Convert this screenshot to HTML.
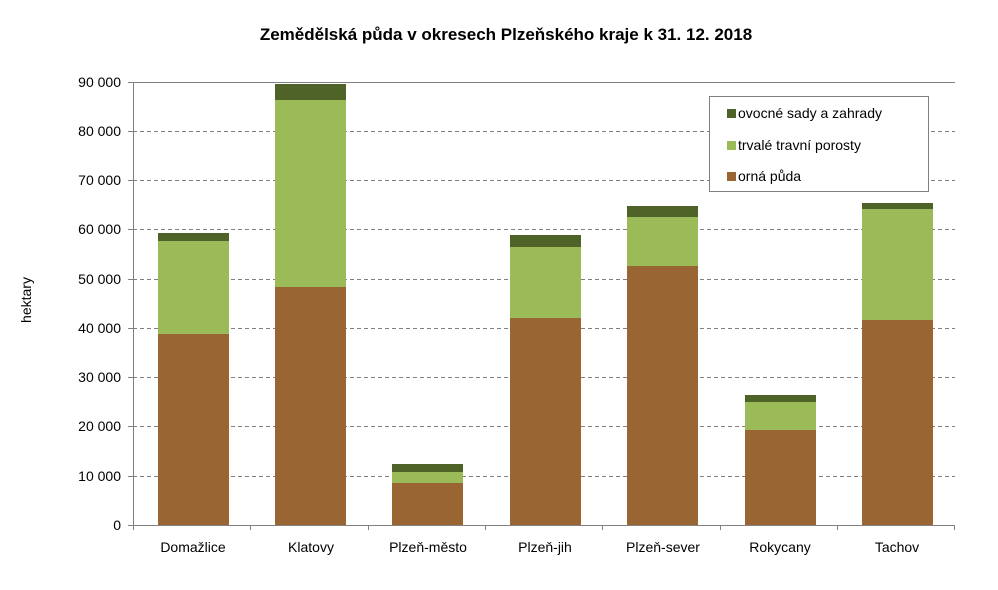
<!DOCTYPE html>
<html><head><meta charset="utf-8"><style>html,body{margin:0;padding:0;background:#fff}svg{display:block}</style></head>
<body>
<svg width="998" height="590" viewBox="0 0 998 590" xmlns="http://www.w3.org/2000/svg" font-family="Liberation Sans, Arial, sans-serif">
<rect x="0" y="0" width="998" height="590" fill="#fff"/>
<text x="506" y="40" text-anchor="middle" font-size="17" font-weight="bold">Zemědělská půda v okresech Plzeňského kraje k 31. 12. 2018</text>
<g stroke="#808080" stroke-width="1" stroke-dasharray="4,3">
<line x1="133" y1="131.5" x2="955" y2="131.5"/>
<line x1="133" y1="180.5" x2="955" y2="180.5"/>
<line x1="133" y1="229.5" x2="955" y2="229.5"/>
<line x1="133" y1="279.5" x2="955" y2="279.5"/>
<line x1="133" y1="328.5" x2="955" y2="328.5"/>
<line x1="133" y1="377.5" x2="955" y2="377.5"/>
<line x1="133" y1="426.5" x2="955" y2="426.5"/>
<line x1="133" y1="476.5" x2="955" y2="476.5"/>
</g>
<line x1="133" y1="82.5" x2="955" y2="82.5" stroke="#808080"/>
<g font-size="14" text-anchor="end">
<text x="121" y="87">90 000</text><text x="121" y="136">80 000</text><text x="121" y="185">70 000</text>
<text x="121" y="234">60 000</text><text x="121" y="284">50 000</text><text x="121" y="333">40 000</text>
<text x="121" y="382">30 000</text><text x="121" y="431">20 000</text><text x="121" y="481">10 000</text>
<text x="121" y="530">0</text>
</g>
<text transform="translate(31,300) rotate(-90)" text-anchor="middle" font-size="14">hektary</text>
<g>
<rect x="158" y="334" width="71" height="191" fill="#996633"/><rect x="158" y="241" width="71" height="93" fill="#9BBB59"/><rect x="158" y="233" width="71" height="8" fill="#4F6228"/>
<rect x="275" y="287" width="71" height="238" fill="#996633"/><rect x="275" y="100" width="71" height="187" fill="#9BBB59"/><rect x="275" y="84" width="71" height="16" fill="#4F6228"/>
<rect x="392" y="483" width="71" height="42" fill="#996633"/><rect x="392" y="472" width="71" height="11" fill="#9BBB59"/><rect x="392" y="464" width="71" height="8" fill="#4F6228"/>
<rect x="510" y="318" width="71" height="207" fill="#996633"/><rect x="510" y="247" width="71" height="71" fill="#9BBB59"/><rect x="510" y="235" width="71" height="12" fill="#4F6228"/>
<rect x="627" y="266" width="71" height="259" fill="#996633"/><rect x="627" y="217" width="71" height="49" fill="#9BBB59"/><rect x="627" y="206" width="71" height="11" fill="#4F6228"/>
<rect x="745" y="430" width="71" height="95" fill="#996633"/><rect x="745" y="402" width="71" height="28" fill="#9BBB59"/><rect x="745" y="395" width="71" height="7" fill="#4F6228"/>
<rect x="862" y="320" width="71" height="205" fill="#996633"/><rect x="862" y="209" width="71" height="111" fill="#9BBB59"/><rect x="862" y="203" width="71" height="6" fill="#4F6228"/>
</g>
<g stroke="#808080" stroke-width="1">
<line x1="133.5" y1="82" x2="133.5" y2="530"/>
<line x1="128" y1="525.5" x2="955" y2="525.5"/>
<line x1="128" y1="82.5" x2="133" y2="82.5"/><line x1="128" y1="131.5" x2="133" y2="131.5"/><line x1="128" y1="180.5" x2="133" y2="180.5"/>
<line x1="128" y1="229.5" x2="133" y2="229.5"/><line x1="128" y1="279.5" x2="133" y2="279.5"/><line x1="128" y1="328.5" x2="133" y2="328.5"/>
<line x1="128" y1="377.5" x2="133" y2="377.5"/><line x1="128" y1="426.5" x2="133" y2="426.5"/><line x1="128" y1="476.5" x2="133" y2="476.5"/>
<line x1="250.5" y1="525" x2="250.5" y2="530"/><line x1="368.5" y1="525" x2="368.5" y2="530"/><line x1="485.5" y1="525" x2="485.5" y2="530"/>
<line x1="602.5" y1="525" x2="602.5" y2="530"/><line x1="720.5" y1="525" x2="720.5" y2="530"/><line x1="837.5" y1="525" x2="837.5" y2="530"/>
<line x1="954.5" y1="525" x2="954.5" y2="530"/>
</g>
<g font-size="14" text-anchor="middle">
<text x="193" y="552">Domažlice</text><text x="311" y="552">Klatovy</text><text x="428" y="552">Plzeň-město</text>
<text x="545" y="552">Plzeň-jih</text><text x="663" y="552">Plzeň-sever</text><text x="780" y="552">Rokycany</text><text x="897" y="552">Tachov</text>
</g>
<rect x="709.5" y="96.5" width="219" height="95" fill="#fff" stroke="#808080"/>
<rect x="727" y="109" width="9" height="9" fill="#4F6228"/><text x="738" y="118" font-size="14">ovocné sady a zahrady</text>
<rect x="727" y="141" width="9" height="9" fill="#9BBB59"/><text x="738" y="150" font-size="14">trvalé travní porosty</text>
<rect x="727" y="172" width="9" height="9" fill="#996633"/><text x="738" y="181" font-size="14">orná půda</text>
</svg>
</body></html>
